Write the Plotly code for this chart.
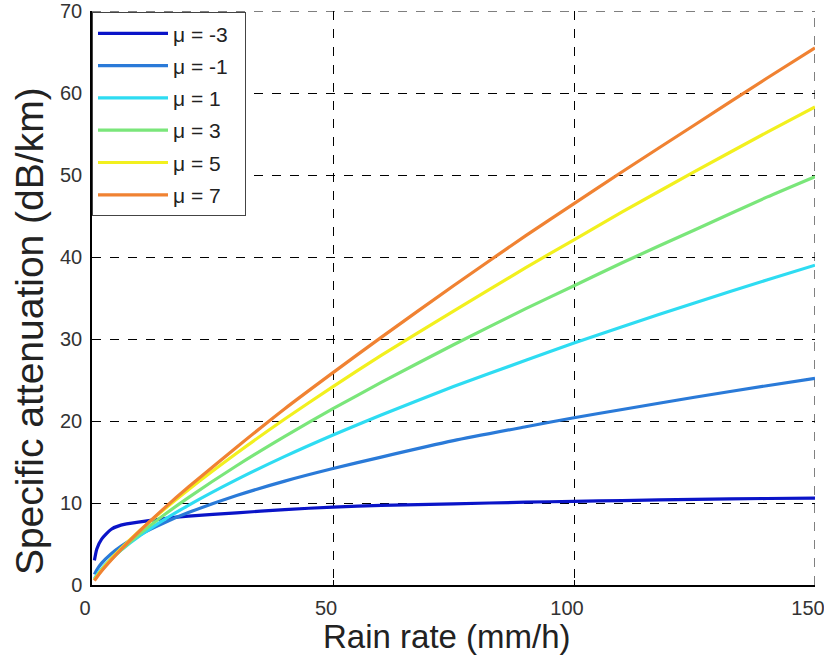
import plotly.graph_objects as go

rain = [0.5, 1, 2, 4, 6, 10, 15, 20, 30, 40, 50, 60, 75, 90, 100, 110, 125, 140, 150]

att_m3 = [3.0, 4.4, 5.6, 6.8, 7.3, 7.7, 8.1, 8.4, 8.8, 9.2, 9.5, 9.7, 9.9, 10.1, 10.2, 10.3, 10.45, 10.55, 10.6]
att_m1 = [1.3, 1.86, 2.67, 3.82, 4.72, 6.16, 7.6, 8.83, 10.91, 12.67, 14.2, 15.6, 17.6, 19.3, 20.4, 21.4, 22.9, 24.3, 25.2]
att_p1 = [0.76, 1.23, 1.98, 3.2, 4.23, 6.03, 7.97, 9.72, 12.85, 15.68, 18.29, 20.74, 24.2, 27.4, 29.5, 31.5, 34.4, 37.2, 39.0]
att_p3 = [0.63, 1.08, 1.83, 3.11, 4.25, 6.27, 8.56, 10.66, 14.54, 18.12, 21.5, 24.7, 29.3, 33.7, 36.5, 39.3, 43.3, 47.3, 49.8]
att_p5 = [0.61, 1.06, 1.84, 3.21, 4.44, 6.68, 9.24, 11.63, 16.07, 20.24, 24.2, 28.0, 33.4, 38.7, 42.1, 45.5, 50.4, 55.2, 58.3]
att_p7 = [0.53, 0.95, 1.71, 3.06, 4.32, 6.65, 9.37, 11.94, 16.8, 21.5, 25.9, 30.2, 36.5, 42.6, 46.5, 50.4, 56.1, 61.8, 65.5]

series_names = ["μ = -3", "μ = -1", "μ = 1", "μ = 3", "μ = 5", "μ = 7"]
series_vals = [att_m3, att_m1, att_p1, att_p3, att_p5, att_p7]
colors = ["#0A14C8", "#2A7AD8", "#2EDCF2", "#7AE67A", "#F2F01E", "#F08232"]

x_ticks = [0, 50, 100, 150]
y_ticks = [0, 10, 20, 30, 40, 50, 60, 70]
x_title = "Rain rate (mm/h)"
y_title = "Specific attenuation (dB/km)"

FONT = "Liberation Sans"

fig = go.Figure()
for i, (name, vals, col) in enumerate(zip(series_names, series_vals, colors)):
    fig.add_trace(go.Scatter(
        x=rain, y=vals, mode="lines", name=name + "\u00a0\u00a0",
        line=dict(color=col, width=3.2, shape="spline", smoothing=0.6),
        legendgroup=f"g{i}",
    ))

axis_common = dict(
    showgrid=True, gridcolor="black", gridwidth=1, griddash="dash",
    showline=True, linecolor="black", linewidth=1.5,
    ticks="inside", ticklen=5, tickcolor="black",
    zeroline=False, ticklabeloverflow="allow", automargin=False,
    tickfont=dict(family=FONT, size=20, color="#333333"),
)

# dashed grid lines on the upper and right limits (MATLAB draws these)
shapes = [
    dict(type="line", xref="paper", yref="y", x0=0, x1=1, y0=y_ticks[-1], y1=y_ticks[-1],
         line=dict(color="black", width=1, dash="dash"), layer="below"),
    dict(type="line", xref="x", yref="paper", x0=x_ticks[-1], x1=x_ticks[-1], y0=0, y1=1,
         line=dict(color="black", width=1, dash="dash"), layer="below"),
]

annotations = [
    dict(text=x_title, xref="paper", yref="paper", x=0.491, y=-0.089,
         xanchor="center", yanchor="middle", showarrow=False,
         font=dict(family=FONT, size=33, color="#222222")),
    dict(text=y_title, xref="paper", yref="paper", x=-0.087, y=0.4425,
         xanchor="center", yanchor="middle", showarrow=False, textangle=-90,
         font=dict(family=FONT, size=39, color="#222222")),
]

fig.update_layout(
    width=824, height=664,
    margin=dict(l=92, r=9, t=11, b=79, autoexpand=False),
    paper_bgcolor="white", plot_bgcolor="white",
    font=dict(family=FONT, color="#222222"),
    xaxis=dict(range=[0, 150], tickvals=x_ticks, ticklabelshift=-7, ticklabelstandoff=4,
               **axis_common),
    yaxis=dict(range=[0, 70], tickvals=y_ticks, ticklabelstandoff=4, **axis_common),
    shapes=shapes,
    annotations=annotations,
    legend=dict(
        x=0.0, y=0.998, xanchor="left", yanchor="top",
        bgcolor="white", bordercolor="#444444", borderwidth=1,
        font=dict(family=FONT, size=21, color="#222222"),
        tracegroupgap=2, itemwidth=70,
    ),
    showlegend=True,
)

fig.write_html("out.html")
